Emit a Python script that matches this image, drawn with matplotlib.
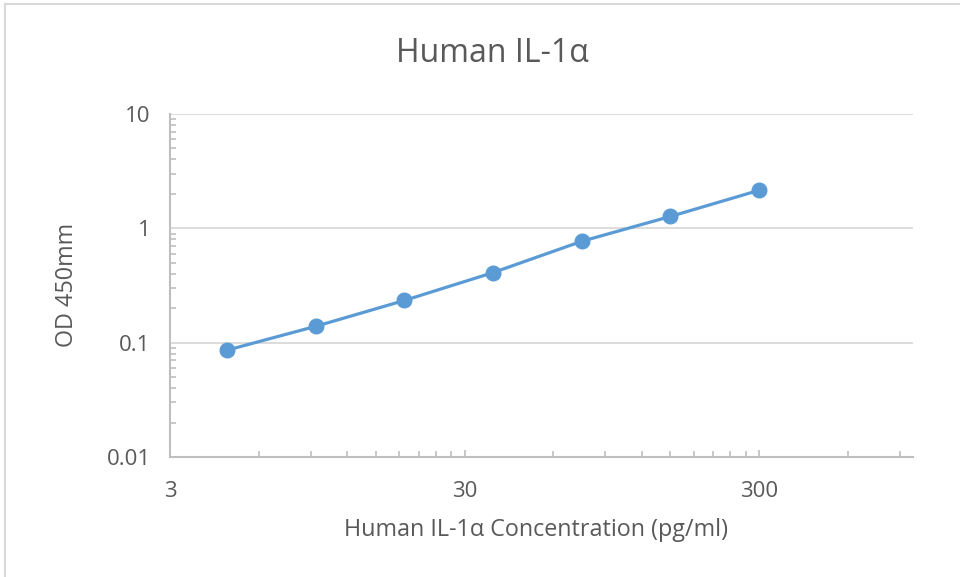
import matplotlib
matplotlib.use('Agg')
import matplotlib.pyplot as plt
from matplotlib.ticker import FixedLocator, LogLocator, NullFormatter
from matplotlib.lines import Line2D

plt.rcParams['font.family'] = ['Open Sans', 'DejaVu Sans']

# data
conc = [4.6875, 9.375, 18.75, 37.5, 75, 150, 300]
od = [0.086, 0.139, 0.234, 0.41, 0.77, 1.27, 2.15]

x_major = [3, 30, 300]
x_labels = ['3', '30', '300']
y_major = [0.01, 0.1, 1, 10]
y_labels = ['0.01', '0.1', '1', '10']

grey_txt = '#595959'
grey_ax = '#bfbfbf'
blue = '#5B9BD5'

fig = plt.figure(figsize=(9.6, 5.77), dpi=100)
ax = fig.add_axes([170 / 960, 1 - 457 / 577, (913 - 170) / 960, (457 - 114) / 577])

ax.plot(conc, od, color=blue, lw=2.3, marker='o', ms=10.5, zorder=3)

ax.set_xscale('log')
ax.set_yscale('log')
ax.set_xlim(3, 1000)
ax.set_ylim(0.01, 10)

ax.xaxis.set_major_locator(FixedLocator(x_major))
ax.set_xticklabels(x_labels)
# excel style minor ticks: multiples of the major step
minors = []
for base in x_major:
    for k in range(2, 10):
        if base * k <= 1000:
            minors.append(base * k)
ax.xaxis.set_minor_locator(FixedLocator(minors))
ax.xaxis.set_minor_formatter(NullFormatter())

ax.yaxis.set_major_locator(FixedLocator(y_major))
ax.set_yticklabels(y_labels)
ax.yaxis.set_minor_locator(LogLocator(base=10, subs=range(2, 10)))
ax.yaxis.set_minor_formatter(NullFormatter())

ax.grid(axis='y', which='major', color='#d9d9d9', lw=1.3)
ax.set_axisbelow(True)
for s in ['top', 'right']:
    ax.spines[s].set_visible(False)
for s in ['left', 'bottom']:
    ax.spines[s].set_color(grey_ax)
    ax.spines[s].set_linewidth(1.5)

ax.tick_params(axis='both', which='both', direction='in', color=grey_ax, width=1.2, labelcolor=grey_txt, labelsize=16)
ax.tick_params(axis='both', which='major', length=5)
ax.tick_params(axis='both', which='minor', length=4)
ax.tick_params(axis='y', which='major', length=0, pad=14)
ax.tick_params(axis='x', which='major', pad=17)

fig.text(492 / 960, 1 - 53 / 577, 'Human IL-1α', ha='center', va='center', fontsize=23, color=grey_txt)
fig.text(536 / 960, 1 - 530 / 577, 'Human IL-1α Concentration (pg/ml)', ha='center', va='center', fontsize=16.8, color=grey_txt)
fig.text(67 / 960, 1 - 285 / 577, 'OD 450mm', ha='center', va='center', rotation=90, fontsize=16.8, color=grey_txt)

# chart border
fig.add_artist(Line2D([5 / 960, 1], [1 - 4 / 577, 1 - 4 / 577], color='#d9d9d9', lw=1.5, transform=fig.transFigure))
fig.add_artist(Line2D([5 / 960, 5 / 960], [0, 1 - 4 / 577], color='#d9d9d9', lw=1.5, transform=fig.transFigure))

fig.savefig('out.png', dpi=100)
